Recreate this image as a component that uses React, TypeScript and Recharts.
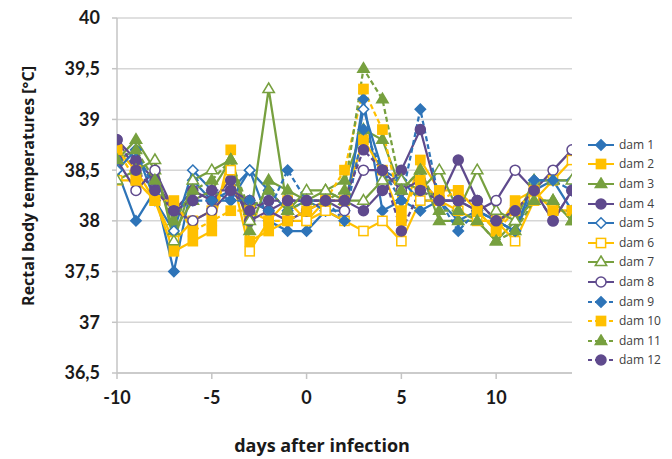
import React from 'react';
import { LineChart, Line, XAxis, YAxis, CartesianGrid } from 'recharts';

const days = [-10, -9, -8, -7, -6, -5, -4, -3, -2, -1, 0, 1, 2, 3, 4, 5, 6, 7, 8, 9, 10, 11, 12, 13, 14];

const dam1 = [38.5, 38.0, 38.3, 37.5, 38.4, 38.2, 38.3, 38.5, 38.0, 37.9, 37.9, 38.1, 38.0, 39.2, 38.1, 38.2, 38.1, 38.2, 38.0, 38.1, 38.0, 37.9, 38.3, 38.4, 38.1];
const dam2 = [38.7, 38.5, 38.2, 37.7, 37.8, 37.9, 38.7, 37.8, 37.9, 38.0, 38.0, 38.2, 38.2, 38.8, 38.5, 38.0, 38.6, 38.3, 38.3, 38.1, 37.9, 38.2, 38.3, 38.1, 38.1];
const dam3 = [38.6, 38.8, 38.5, 37.9, 38.2, 38.3, 38.6, 37.9, 38.4, 38.3, 38.2, 38.3, 38.4, 38.9, 38.8, 38.3, 38.5, 38.0, 38.0, 38.0, 37.8, 38.0, 38.2, 38.2, 38.0];
const dam4 = [38.8, 38.6, 38.4, 38.1, 38.3, 38.2, 38.4, 38.0, 38.1, 38.2, 38.2, 38.2, 38.2, 38.1, 38.3, 38.5, 38.9, 38.2, 38.6, 38.2, 38.0, 38.1, 38.3, 38.0, 38.3];
const dam5 = [38.5, 38.7, 38.2, 37.9, 38.5, 38.3, 38.2, 38.5, 38.3, 38.1, 38.2, 38.1, 38.1, 39.1, 38.5, 38.4, 38.2, 38.2, 38.2, 38.1, 38.0, 37.9, 38.4, 38.4, 38.4];
const dam6 = [38.4, 38.4, 38.2, 37.8, 38.0, 38.1, 38.5, 37.7, 38.0, 38.2, 38.0, 38.1, 38.0, 37.9, 38.0, 37.8, 38.2, 38.2, 38.1, 38.0, 38.0, 37.8, 38.2, 38.4, 38.6];
const dam7 = [38.4, 38.5, 38.6, 37.8, 38.4, 38.5, 38.6, 38.0, 39.3, 38.1, 38.3, 38.3, 38.2, 38.2, 38.4, 38.4, 38.3, 38.5, 38.1, 38.5, 38.1, 38.0, 38.4, 38.4, 38.4];
const dam8 = [38.6, 38.3, 38.5, 38.1, 38.0, 38.1, 38.3, 38.2, 38.1, 38.0, 38.1, 38.2, 38.1, 38.5, 38.5, 38.3, 38.4, 38.2, 38.2, 38.1, 38.2, 38.5, 38.3, 38.5, 38.7];
const dam9 = [38.6, 38.7, 38.3, 38.1, 38.2, 38.2, 38.2, 38.2, 38.1, 38.5, 38.2, 38.2, 38.0, 38.9, 38.5, 38.2, 39.1, 38.2, 37.9, 38.1, 38.0, 37.9, 38.4, 38.4, 38.3];
const dam10 = [38.7, 38.4, 38.2, 38.2, 37.9, 38.0, 38.1, 38.1, 38.0, 38.0, 38.1, 38.2, 38.5, 39.3, 38.9, 38.1, 38.4, 38.2, 38.3, 38.1, 37.9, 38.1, 38.3, 38.1, 38.1];
const dam11 = [38.6, 38.7, 38.4, 38.0, 38.3, 38.4, 38.6, 38.1, 38.3, 38.1, 38.2, 38.2, 38.3, 39.5, 39.2, 38.3, 38.5, 38.1, 38.1, 38.0, 37.8, 37.9, 38.2, 38.2, 38.0];
const dam12 = [38.8, 38.5, 38.3, 38.1, 38.2, 38.3, 38.3, 38.1, 38.2, 38.2, 38.2, 38.2, 38.2, 38.7, 38.5, 37.9, 38.3, 38.2, 38.2, 38.2, 38.0, 38.1, 38.3, 38.0, 38.3];

const xTicks = [-10, -5, 0, 5, 10];
const yTicks = [36.5, 37, 37.5, 38, 38.5, 39, 39.5, 40];

const BLUE = '#2E74B8';
const YELLOW = '#FFC000';
const GREEN = '#77A03F';
const PURPLE = '#5F4A8D';

type Shape = 'diamond' | 'square' | 'triangle' | 'circle';
type SeriesDef = { key: string; name: string; values: number[]; color: string; shape: Shape; filled: boolean; dashed: boolean };

const series: SeriesDef[] = [
  { key: 'd1', name: 'dam 1', values: dam1, color: BLUE, shape: 'diamond', filled: true, dashed: false },
  { key: 'd2', name: 'dam 2', values: dam2, color: YELLOW, shape: 'square', filled: true, dashed: false },
  { key: 'd3', name: 'dam 3', values: dam3, color: GREEN, shape: 'triangle', filled: true, dashed: false },
  { key: 'd4', name: 'dam 4', values: dam4, color: PURPLE, shape: 'circle', filled: true, dashed: false },
  { key: 'd5', name: 'dam 5', values: dam5, color: BLUE, shape: 'diamond', filled: false, dashed: false },
  { key: 'd6', name: 'dam 6', values: dam6, color: YELLOW, shape: 'square', filled: false, dashed: false },
  { key: 'd7', name: 'dam 7', values: dam7, color: GREEN, shape: 'triangle', filled: false, dashed: false },
  { key: 'd8', name: 'dam 8', values: dam8, color: PURPLE, shape: 'circle', filled: false, dashed: false },
  { key: 'd9', name: 'dam 9', values: dam9, color: BLUE, shape: 'diamond', filled: true, dashed: true },
  { key: 'd10', name: 'dam 10', values: dam10, color: YELLOW, shape: 'square', filled: true, dashed: true },
  { key: 'd11', name: 'dam 11', values: dam11, color: GREEN, shape: 'triangle', filled: true, dashed: true },
  { key: 'd12', name: 'dam 12', values: dam12, color: PURPLE, shape: 'circle', filled: true, dashed: true },
];

const data = days.map((d, i) => {
  const row: Record<string, number> = { day: d };
  series.forEach((s) => {
    row[s.key] = s.values[i];
  });
  return row;
});

function marker(shape: Shape, color: string, filled: boolean, cx: number, cy: number, k?: string | number) {
  const fill = filled ? color : '#ffffff';
  const sw = 1.5;
  if (shape === 'circle') {
    return <circle key={k} cx={cx} cy={cy} r={5} fill={fill} stroke={color} strokeWidth={sw} />;
  }
  if (shape === 'square') {
    return <rect key={k} x={cx - 4.6} y={cy - 4.6} width={9.2} height={9.2} fill={fill} stroke={color} strokeWidth={sw} />;
  }
  if (shape === 'diamond') {
    const r = 5.2;
    return (
      <polygon
        key={k}
        points={`${cx},${cy - r} ${cx + r},${cy} ${cx},${cy + r} ${cx - r},${cy}`}
        fill={fill}
        stroke={color}
        strokeWidth={sw}
      />
    );
  }
  const r = 6;
  return (
    <polygon
      key={k}
      points={`${cx},${cy - r} ${cx + r * 0.95},${cy + r * 0.6} ${cx - r * 0.95},${cy + r * 0.6}`}
      fill={fill}
      stroke={color}
      strokeWidth={sw}
    />
  );
}

function makeDot(s: SeriesDef) {
  return (props: any) => {
    const { cx, cy, index } = props;
    if (cx == null || cy == null) return <g key={`${s.key}-${index}`} />;
    return marker(s.shape, s.color, s.filled, cx, cy, `${s.key}-${index}`);
  };
}

const FONT = 'Lato, "Open Sans", "Liberation Sans", sans-serif';
const TITLE_FONT = '"Open Sans", Lato, "Liberation Sans", sans-serif';

const YTitle = () => {
  return (
    <text
      x={28}
      y={186}
      transform="rotate(-90, 28, 186)"
      textAnchor="middle"
      dominantBaseline="central"
      fontFamily={TITLE_FONT}
      fontWeight={700}
      fontSize={16}
      fill="#1a1a1a"
    >
      Rectal body temperatures [°C]
    </text>
  );
};

const XTitle = () => {
  return (
    <text x={322} y={452} textAnchor="middle" fontFamily={TITLE_FONT} fontWeight={700} fontSize={18} fill="#1a1a1a">
      days after infection
    </text>
  );
};

export default function App() {
  return (
    <div style={{ position: 'absolute', left: 0, top: 0, width: 672, height: 459, background: '#ffffff' }}>
      <LineChart width={672} height={459} data={data} margin={{ top: 18, right: 100, bottom: 0, left: 0 }}>
        <CartesianGrid horizontal vertical={false} stroke="#d6d6d6" strokeWidth={1.5} />
        <XAxis
          type="number"
          dataKey="day"
          domain={[-10, 14]}
          ticks={xTicks}
          allowDataOverflow
          height={86}
          stroke="#c4c4c4"
          strokeWidth={1.5}
          tickSize={6}
          tickMargin={12}
          tick={{ fontFamily: FONT, fontWeight: 700, fontSize: 18, fill: '#1a1a1a' }}
          label={<XTitle />}
        />
        <YAxis
          type="number"
          domain={[36.5, 40]}
          ticks={yTicks}
          width={117}
          stroke="#c4c4c4"
          strokeWidth={1.5}
          tickSize={5}
          tickMargin={12}
          interval={0}
          tickFormatter={(v: number) => String(v).replace('.', ',')}
          tick={{ fontFamily: FONT, fontWeight: 700, fontSize: 18, fill: '#1a1a1a' }}
          label={<YTitle />}
        />
        {series.map((s) => (
          <Line
            key={s.key}
            type="linear"
            dataKey={s.key}
            name={s.name}
            stroke={s.color}
            strokeWidth={2.25}
            strokeDasharray={s.dashed ? '5 3' : undefined}
            dot={makeDot(s)}
            activeDot={false}
            isAnimationActive={false}
          />
        ))}
      </LineChart>
      <div style={{ position: 'absolute', left: 587, top: 135, width: 85 }}>
        {series.map((s) => (
          <div key={s.key} style={{ height: 19.6, display: 'flex', alignItems: 'center' }}>
            <svg width={28} height={14} style={{ flex: 'none' }}>
              <line
                x1={1}
                y1={7}
                x2={27}
                y2={7}
                stroke={s.color}
                strokeWidth={2}
                strokeDasharray={s.dashed ? '4 3' : undefined}
              />
              {marker(s.shape, s.color, s.filled, 14, 7)}
            </svg>
            <span
              style={{
                marginLeft: 4,
                fontFamily: TITLE_FONT,
                fontSize: 12,
                color: '#404040',
                whiteSpace: 'nowrap',
                lineHeight: '14px',
              }}
            >
              {s.name}
            </span>
          </div>
        ))}
      </div>
    </div>
  );
}
